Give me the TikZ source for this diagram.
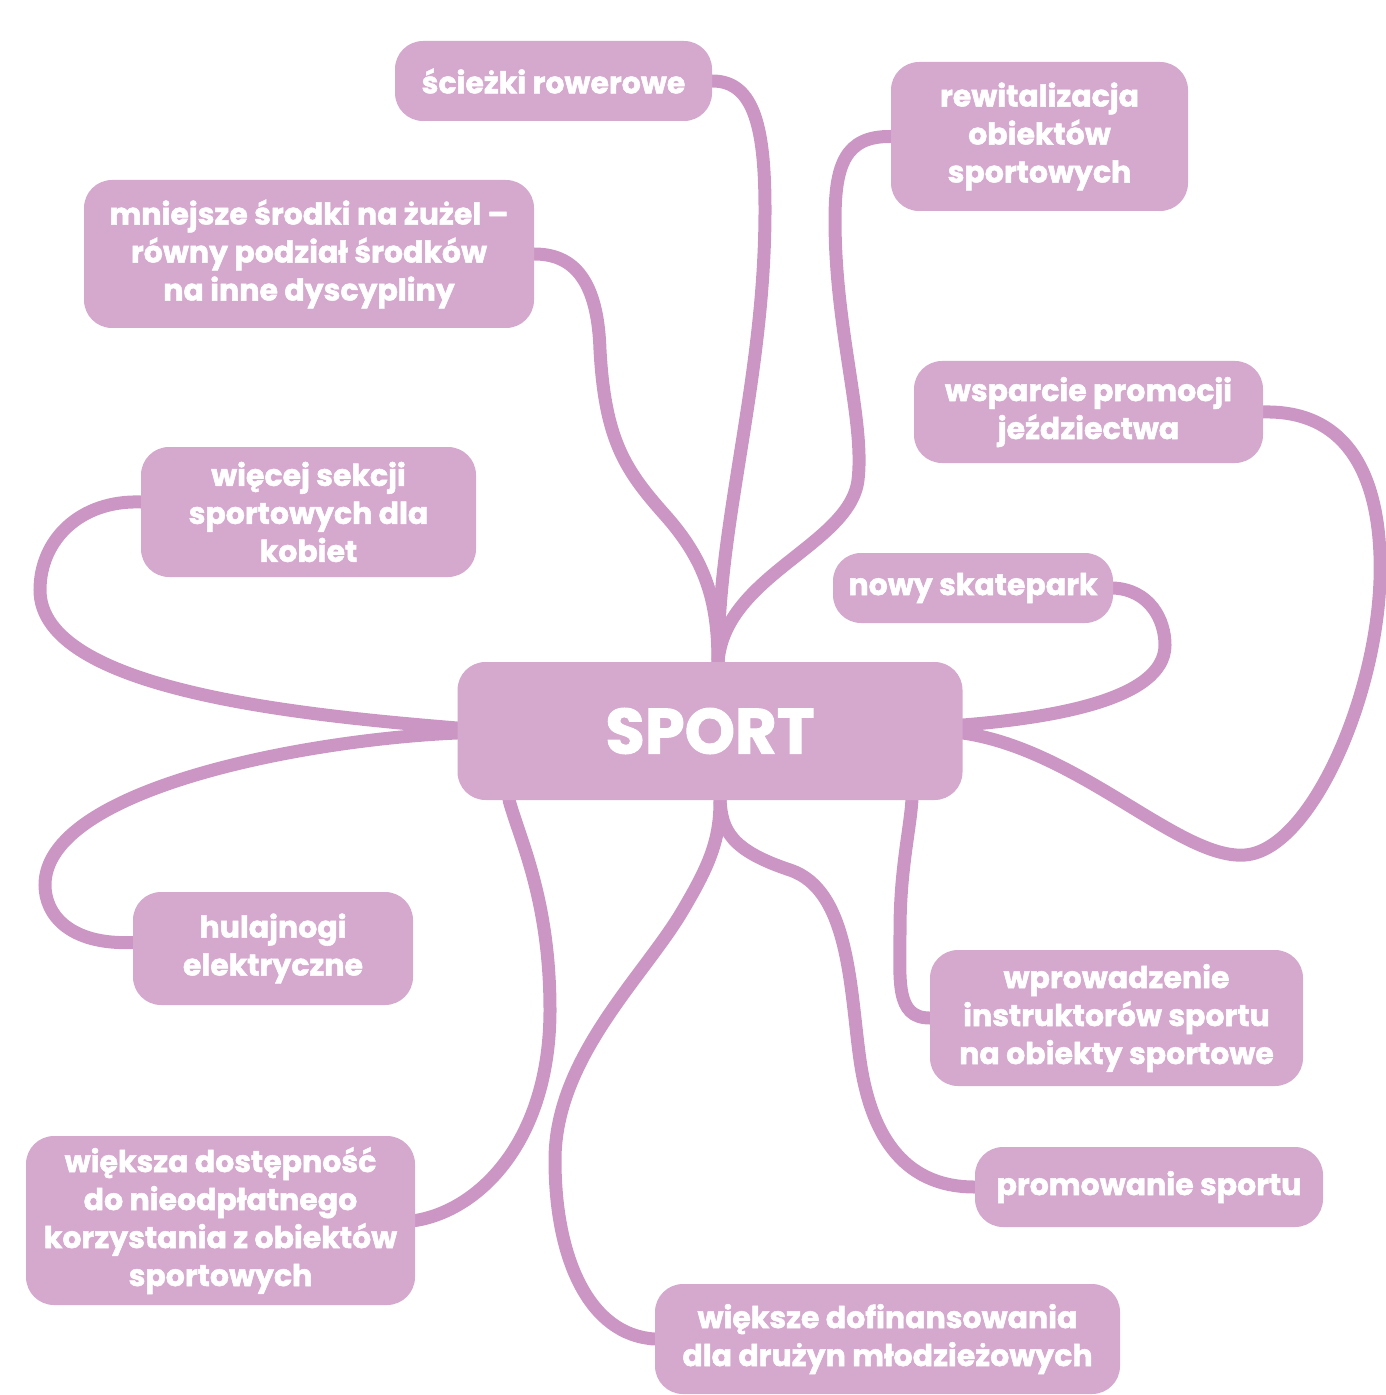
\documentclass[tikz,border=0pt]{standalone}
\usepackage{fontspec}
\setmainfont{Poppins}[BoldFeatures={FakeBold=1.6}]
\usetikzlibrary{calc,backgrounds}
\definecolor{boxpink}{RGB}{213,168,205}
\definecolor{linepink}{RGB}{204,150,196}

\begin{document}
\begin{tikzpicture}[x=0.5pt,y=-0.5pt,
    idea/.style={rectangle,rounded corners=14pt,fill=boxpink,text=white,align=center,inner sep=0pt,
      font=\bfseries\fontsize{15}{19}\selectfont},
    branch/.style={draw=linepink,line width=6.5pt,line cap=round}]
  \useasboundingbox (0,0) rectangle (1385,1395);

  \node[idea,minimum width=252.5pt,minimum height=69pt,font=\bfseries\fontsize{32}{36}\selectfont] (sport) at (710,731) {SPORT};

  \node[idea,minimum width=158.5pt,minimum height=40pt] (sciezki) at (553.5,81) {ścieżki rowerowe};
  \node[idea,minimum width=148.5pt,minimum height=74.5pt] (rewital) at (1039.5,136.5) {rewitalizacja\\obiektów\\sportowych};
  \node[idea,minimum width=225pt,minimum height=74pt] (mniejsze) at (309,254) {mniejsze środki na żużel –\\równy podział środków\\na inne dyscypliny};
  \node[idea,minimum width=174.5pt,minimum height=51pt] (wsparcie) at (1088.5,412) {wsparcie promocji\\jeździectwa};
  \node[idea,minimum width=167.5pt,minimum height=65pt] (kobiety) at (308.5,512) {więcej sekcji\\sportowych dla\\kobiet};
  \node[idea,minimum width=140pt,minimum height=35pt] (skatepark) at (973,588) {nowy skatepark};
  \node[idea,minimum width=140pt,minimum height=56.5pt] (hulajnogi) at (273,948.5) {hulajnogi\\elektryczne};
  \node[idea,minimum width=186.5pt,minimum height=68pt] (instrukt) at (1116.5,1018) {wprowadzenie\\instruktorów sportu\\na obiekty sportowe};
  \node[idea,minimum width=174pt,minimum height=40pt] (promow) at (1149,1187) {promowanie sportu};
  \node[idea,minimum width=194.5pt,minimum height=84.5pt] (dostep) at (220.5,1220.5) {większa dostępność\\do nieodpłatnego\\korzystania z obiektów\\sportowych};
  \node[idea,minimum width=232.5pt,minimum height=55pt] (dofin) at (887.5,1339) {większe dofinansowania\\dla drużyn młodzieżowych};

  % branches behind the boxes
  \begin{scope}[on background layer]
    \coordinate (top) at ($(sport.north)+(8,0)$);
    \coordinate (botl) at ($(sport.south west)+(52,0)$);
    \coordinate (botm) at ($(sport.south)+(10,0)$);
    \coordinate (botr) at ($(sport.south east)+(-51,0)$);

    \draw[branch] (sciezki.east) .. controls (755,81) and (765,130) .. (765,210)
      .. controls (765,380) and (718,520) .. (top);
    \draw[branch] (rewital.west) .. controls (845,136) and (835,165) .. (835,220)
      .. controls (835,330) and (865,420) .. (858,480)
      .. controls (850,545) and (725,575) .. (top);
    \draw[branch] (mniejsze.east) .. controls (580,254) and (598,290) .. (600,350)
      .. controls (605,440) and (625,470) .. (665,515)
      .. controls (705,560) and (718,600) .. (top);

    \draw[branch] (wsparcie.east) .. controls (1350,410) and (1383,480) .. (1380,580)
      .. controls (1376,700) and (1310,850) .. (1245,855)
      .. controls (1180,860) and (1080,750) .. ($(sport.east)+(0,2)$);
    \draw[branch] (skatepark.east) .. controls (1150,590) and (1165,620) .. (1165,645)
      .. controls (1165,700) and (1050,718) .. ($(sport.east)+(0,-6)$);

    \draw[branch] ($(kobiety.west)+(0,-10)$) .. controls (80,500) and (40,540) .. (40,590)
      .. controls (40,690) and (300,715) .. ($(sport.west)+(0,-3)$);
    \draw[branch] ($(hulajnogi.west)+(0,-6)$) .. controls (70,945) and (45,915) .. (45,885)
      .. controls (45,790) and (300,740) .. ($(sport.west)+(0,2)$);

    \draw[branch] (dostep.east) .. controls (480,1210) and (550,1140) .. (550,1010)
      .. controls (550,900) and (520,840) .. (botl);
    \draw[branch] (dofin.west) .. controls (590,1335) and (555,1260) .. (555,1160)
      .. controls (555,1060) and (640,980) .. (680,915)
      .. controls (710,865) and (720,840) .. (botm);
    \draw[branch] (promow.west) .. controls (900,1187) and (870,1130) .. (860,1060)
      .. controls (850,990) and (850,890) .. (790,870)
      .. controls (730,850) and (722,830) .. (botm);
    \draw[branch] (instrukt.west) .. controls (895,1018) and (900,980) .. (900,930)
      .. controls (900,870) and (910,830) .. (botr);
  \end{scope}
\end{tikzpicture}
\end{document}
